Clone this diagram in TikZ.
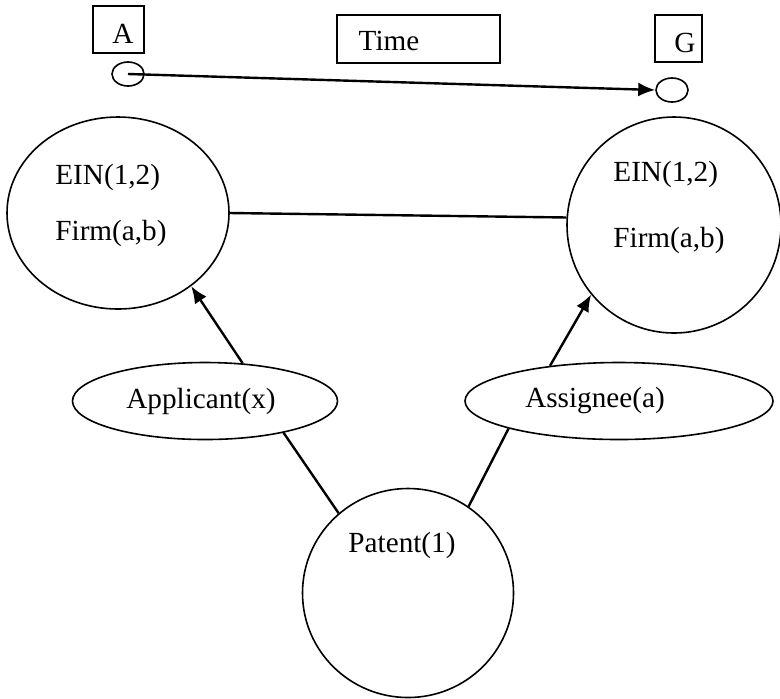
\documentclass[tikz,border=0pt]{standalone}
\usepackage{fontspec}
\setmainfont{Liberation Serif}
\usetikzlibrary{shapes.geometric,arrows.meta}

\begin{document}
\begin{tikzpicture}[x=.5pt,y=-.5pt,
    ent/.style={draw,ellipse,line width=.8pt,inner sep=0pt},
    tag/.style={draw,rectangle,line width=1pt,inner sep=0pt},
    lbl/.style={draw=none,inner sep=0pt,font=\fontsize{14.6}{17}\selectfont},
    lnk/.style={line width=1.2pt},
    tip/.style={-{Latex[length=8.5pt,width=7pt]}}]
             \useasboundingbox (0,0) rectangle (780,698);

             % time line
             \node[tag,minimum width=25.5pt,minimum height=23.5pt] (boxA) at (118.5,29.5) {};
             \node[lbl] (txtA) at (123,34) {A};
             \node[tag,minimum width=81.5pt,minimum height=24pt] (boxT) at (418.5,39) {};
             \node[lbl] (txtT) at (389,41) {Time};
             \node[tag,minimum width=23.5pt,minimum height=23.5pt] (boxG) at (678.5,38.5) {};
             \node[lbl] (txtG) at (685,43) {G};
             \node[ent,minimum width=16pt,minimum height=12pt] (dotA) at (128,74) {};
             \node[ent,minimum width=16pt,minimum height=12pt] (dotG) at (672,90) {};
             \draw[lnk,tip] (dotA.center) -- (dotG.west);

             % firms
             \node[ent,minimum width=111pt,minimum height=96pt] (firmL) at (118,213) {};
             \node[lbl,anchor=west] (einL) at (55,177) {EIN(1,2)};
             \node[lbl,anchor=west] (nameL) at (55,233) {Firm(a,b)};
             \node[ent,minimum width=107pt,minimum height=108pt] (firmR) at (674,225) {};
             \node[lbl,anchor=west] (einR) at (613,174) {EIN(1,2)};
             \node[lbl,anchor=west] (nameR) at (613,240) {Firm(a,b)};
             \draw[lnk] (firmL.east) -- (firmR.176);

             % roles
             \node[ent,minimum width=132.5pt,minimum height=38.5pt] (appl) at (205,401) {};
             \node[lbl] (txtAp) at (201,401) {Applicant(x)};
             \node[ent,minimum width=154pt,minimum height=38.5pt] (assg) at (619,401) {};
             \node[lbl] (txtAs) at (595,401) {Assignee(a)};

             % patent
             \node[ent,minimum width=105.5pt,minimum height=104.5pt] (pat) at (408,593) {};
             \node[lbl] (txtP) at (402,545) {Patent(1)};

             \draw[lnk,tip] (appl.45) -- (firmL.-45);
             \draw[lnk,tip] (assg.153) -- (firmR.220);
             \draw[lnk] (appl.-22) -- (pat.131);
             \draw[lnk] (assg.194) -- (pat.55);
\end{tikzpicture}
\end{document}
